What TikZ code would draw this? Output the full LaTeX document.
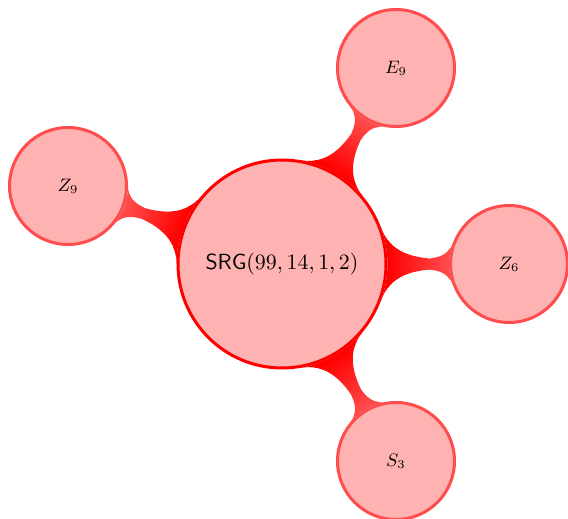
\documentclass[tikz,border=0pt]{standalone}
\usetikzlibrary{mindmap}
\pgfdeclarelayer{background}
\pgfsetlayers{background,main}
\begin{document}
\begin{tikzpicture}[x=0.5pt,y=-0.5pt,
  rootc/.style={concept, concept color=red, circle, minimum size=104pt, text width=95pt, inner sep=0pt, align=center, fill=red!30, draw=red, line width=1.5pt, font=\fontsize{11}{13}\selectfont, text=black},
  childc/.style={concept, concept color=red!70, circle, minimum size=58.5pt, text width=45pt, inner sep=0pt, align=center, fill=red!30, draw=red!70, line width=1.5pt, font=\small, text=black},
  barc/.style={circle connection bar switch color=from (red) to (red!70)}]
\useasboundingbox (0,0) rectangle (568,519);
\node[rootc] (c) at (282,264) {$\mathsf{SRG}(99,14,1,2)$};
\node[childc] (e9) at (396,68) {$E_9$};
\node[childc] (z9) at (68,186) {$Z_9$};
\node[childc] (z6) at (509,264) {$Z_6$};
\node[childc] (s3) at (396,461) {$S_3$};
\begin{pgfonlayer}{background}
\path (c) to[barc] (e9);
\path (c) to[barc] (z9);
\path (c) to[barc] (z6);
\path (c) to[barc] (s3);
\end{pgfonlayer}
\end{tikzpicture}
\end{document}
